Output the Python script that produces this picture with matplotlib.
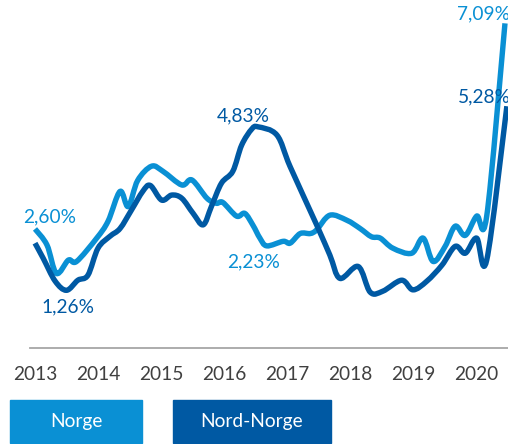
import matplotlib
matplotlib.use("Agg")
import matplotlib.pyplot as plt
from matplotlib.patches import Rectangle, PathPatch
from matplotlib.path import Path

# ---- data (decimal year, percent) ----
norge_t = [2013.00, 2013.19, 2013.34, 2013.53, 2013.66, 2013.98, 2014.16, 2014.35, 2014.48,
           2014.63, 2014.85, 2015.03, 2015.33, 2015.49, 2015.73, 2015.88, 2015.98, 2016.20,
           2016.33, 2016.46, 2016.57, 2016.68, 2016.94, 2017.05, 2017.21, 2017.37, 2017.47,
           2017.68, 2017.95, 2018.16, 2018.34, 2018.48, 2018.68, 2018.98, 2019.16, 2019.32,
           2019.51, 2019.67, 2019.83, 2020.01, 2020.17, 2020.46]
norge_v = [2.60, 2.25, 1.63, 1.92, 1.89, 2.40, 2.77, 3.42, 3.09,
           3.66, 3.97, 3.86, 3.56, 3.67, 3.27, 3.16, 3.18, 2.88,
           2.94, 2.68, 2.40, 2.23, 2.33, 2.29, 2.50, 2.50, 2.58,
           2.90, 2.79, 2.61, 2.43, 2.40, 2.18, 2.07, 2.40, 1.89,
           2.22, 2.66, 2.46, 2.88, 2.88, 7.09]

nord_t = [2013.00, 2013.13, 2013.32, 2013.50, 2013.68, 2013.84, 2014.00, 2014.19, 2014.35,
          2014.53, 2014.71, 2014.83, 2015.01, 2015.17, 2015.33, 2015.51, 2015.67, 2015.80,
          2015.96, 2016.14, 2016.28, 2016.44, 2016.54, 2016.84, 2017.05, 2017.47, 2017.68,
          2017.84, 2018.13, 2018.32, 2018.52, 2018.82, 2019.00, 2019.22, 2019.46, 2019.67,
          2019.83, 2020.01, 2020.17, 2020.49]
nord_v = [2.29, 1.96, 1.46, 1.26, 1.48, 1.59, 2.18, 2.44, 2.61,
          3.01, 3.42, 3.55, 3.23, 3.34, 3.27, 2.94, 2.69, 3.09,
          3.60, 3.86, 4.43, 4.78, 4.83, 4.65, 3.96, 2.69, 2.03,
          1.52, 1.78, 1.22, 1.24, 1.48, 1.27, 1.46, 1.81, 2.22,
          2.07, 2.40, 1.92, 5.28]

years = [2013, 2014, 2015, 2016, 2017, 2018, 2019, 2020]
year_labels = [str(y) for y in years]
series_names = ["Norge", "Nord-Norge"]

labels_text = ["2,60%", "1,26%", "4,83%", "2,23%", "7,09%", "5,28%"]

# ---- style ----
c_light = "#0A90D4"
c_dark = "#0059A3"
W, H = 508, 444
plt.rcParams['font.family'] = ['Lato', 'DejaVu Sans']
FS = 13.8

fig = plt.figure(figsize=(W / 100, H / 100), dpi=100)
ax = fig.add_axes([30 / W, (H - 348) / H, 478 / W, 348 / H])
ax.set_xlim(2013 - 5 / 63, 2013 + (508 - 35) / 63)
ax.set_ylim(0, 7.6)


def smooth_path(ts, vs, k=1 / 6):
    """Excel-like smoothed line: cubic Bezier through each point (Catmull-Rom handles)."""
    pts = list(zip(ts, vs))
    verts = [pts[0]]
    codes = [Path.MOVETO]
    n = len(pts)
    for i in range(n - 1):
        p0 = pts[i - 1] if i > 0 else pts[i]
        p1 = pts[i]
        p2 = pts[i + 1]
        p3 = pts[i + 2] if i + 2 < n else pts[i + 1]
        c1 = (p1[0] + (p2[0] - p0[0]) * k, p1[1] + (p2[1] - p0[1]) * k)
        c2 = (p2[0] - (p3[0] - p1[0]) * k, p2[1] - (p3[1] - p1[1]) * k)
        verts += [c1, c2, p2]
        codes += [Path.CURVE4] * 3
    return Path(verts, codes)


for ts, vs, col in [(norge_t, norge_v, c_light), (nord_t, nord_v, c_dark)]:
    patch = PathPatch(smooth_path(ts, vs), facecolor='none', edgecolor=col, lw=3.9,
                      capstyle='butt', joinstyle='round', clip_on=False)
    ax.add_patch(patch)

for s in ['top', 'right', 'left']:
    ax.spines[s].set_visible(False)
ax.spines['bottom'].set_color('#A6A6A6')
ax.spines['bottom'].set_linewidth(1.3)
ax.set_yticks([])
ax.set_xticks(years)
ax.set_xticklabels(year_labels, fontsize=FS, color='#404040')
ax.tick_params(axis='x', length=0, pad=13)


def px(x, y):
    return 2013 + (x - 35) / 63, (348 - y) / 45.8


label_pos = [(50, 217), (68, 307), (243, 116), (254, 262), (484, 14), (484, 97)]
label_col = [c_light, c_dark, c_dark, c_light, c_light, c_dark]
for txt, (x, y), col in zip(labels_text, label_pos, label_col):
    tx, ty = px(x, y)
    ax.text(tx, ty, txt, color=col, fontsize=FS, ha='center', va='center', clip_on=False)

# legend boxes
boxes = [(10, 142, c_light), (173, 331, c_dark)]
for name, (x0, x1, col) in zip(series_names, boxes):
    y0, y1 = 400, 443
    fig.patches.append(Rectangle((x0 / W, 1 - y1 / H), (x1 - x0) / W, (y1 - y0) / H,
                                 transform=fig.transFigure, color=col, zorder=0))
    fig.text((x0 + x1) / 2 / W, 1 - (y0 + y1) / 2 / H, name, color='white',
             fontsize=FS, ha='center', va='center')

fig.savefig("out.png", dpi=100)
